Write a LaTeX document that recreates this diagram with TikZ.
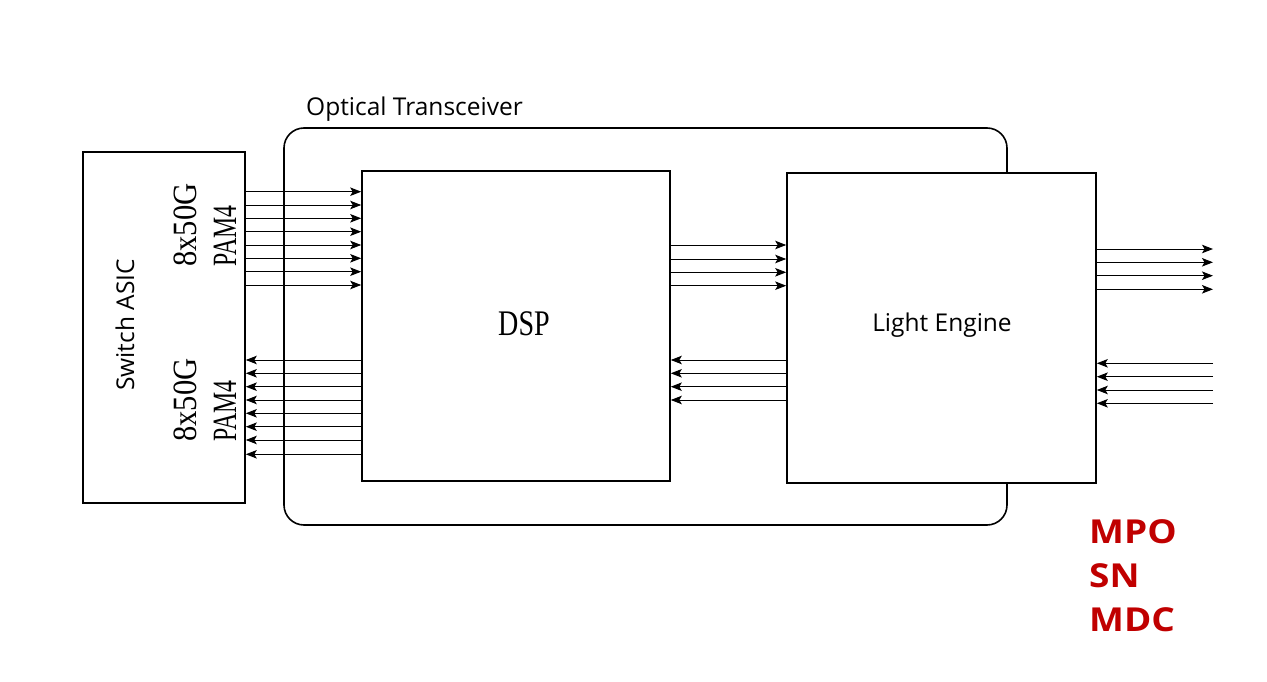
\documentclass[tikz,border=0pt]{standalone}
\usepackage{fontspec}
\setmainfont{Open Sans}
\newfontfamily\condserifA[FakeStretch=0.90]{Liberation Serif}
\newfontfamily\condserifB[FakeStretch=0.70]{Liberation Serif}
\newfontfamily\condserifC[FakeStretch=0.78]{Liberation Serif}
\newfontfamily\widesans[FakeStretch=1.12]{Open Sans}
\usetikzlibrary{arrows.meta}
\definecolor{mred}{RGB}{192,0,0}
\tikzset{
  box/.style={draw, line width=1.6pt, fill=white, inner sep=0pt},
  arr/.style={line width=1pt, -{Stealth[length=11pt,width=8.5pt,inset=2.5pt]}},
  rotlab/.style={rotate=90, anchor=base west, inner sep=0pt},
  sanslab/.style={inner sep=0pt, font=\fontsize{24.5}{24.5}\selectfont},
}
\begin{document}
\begin{tikzpicture}[x=1pt,y=-1pt]
\useasboundingbox (0,0) rectangle (1267,682);
% transceiver
\node[box, rounded corners=20pt, minimum width=723pt, minimum height=397pt] (trans) at (645.5,326.5) {};
\node[sanslab, anchor=base west] (translab) at (306,116) {Optical Transceiver};
% switch ASIC
\node[box, minimum width=162pt, minimum height=351pt] (asic) at (164,327.5) {};
\node[sanslab, rotate=90] (asiclab) at (125,325) {Switch ASIC};
\node[rotlab, font=\condserifA\fontsize{34}{34}\selectfont] (rate1) at (196,267) {8x50G};
\node[rotlab, font=\condserifB\fontsize{34}{34}\selectfont] (mod1) at (236,267) {PAM4};
\node[rotlab, font=\condserifA\fontsize{34}{34}\selectfont] (rate2) at (196,442) {8x50G};
\node[rotlab, font=\condserifB\fontsize{34}{34}\selectfont] (mod2) at (236,442) {PAM4};
% DSP
\node[box, minimum width=308pt, minimum height=310pt] (dsp) at (516,326) {};
\node[font=\condserifC\fontsize{36}{36}\selectfont, inner sep=0pt] (dsplab) at (524,324) {DSP};
% Light engine
\node[box, minimum width=309pt, minimum height=310pt] (le) at (941.5,328) {};
\node[sanslab] (lelab) at (942,325) {Light Engine};
% arrows ASIC -> DSP
\foreach \y in {191.7,205,218.3,231.7,245,258.3,271.7,285}
  \draw[arr] (asic.east |- 0,\y) -- (dsp.west |- 0,\y);
\foreach \y in {360,373.3,386.7,400,413.3,426.7,440,454.3}
  \draw[arr] (dsp.west |- 0,\y) -- (asic.east |- 0,\y);
% DSP <-> LE
\foreach \y in {245,259,272.3,285.7}
  \draw[arr] (dsp.east |- 0,\y) -- (le.west |- 0,\y);
\foreach \y in {360,373.3,386.7,400}
  \draw[arr] (le.west |- 0,\y) -- (dsp.east |- 0,\y);
% LE external
\foreach \y [count=\i] in {249,262.3,275.7,289.3} {
  \coordinate (out\i) at (1213,\y);
  \draw[arr] (le.east |- 0,\y) -- (out\i);
}
\foreach \y [count=\i] in {363.3,376.7,390,403.3} {
  \coordinate (in\i) at (1213,\y);
  \draw[arr] (in\i) -- (le.east |- 0,\y);
}
% connectors
\node[anchor=west, align=left, inner sep=0pt, text=mred, font=\widesans\bfseries\fontsize{33}{44}\selectfont] (conn) at (1089,576) {MPO\\SN\\MDC};
\end{tikzpicture}
\end{document}
